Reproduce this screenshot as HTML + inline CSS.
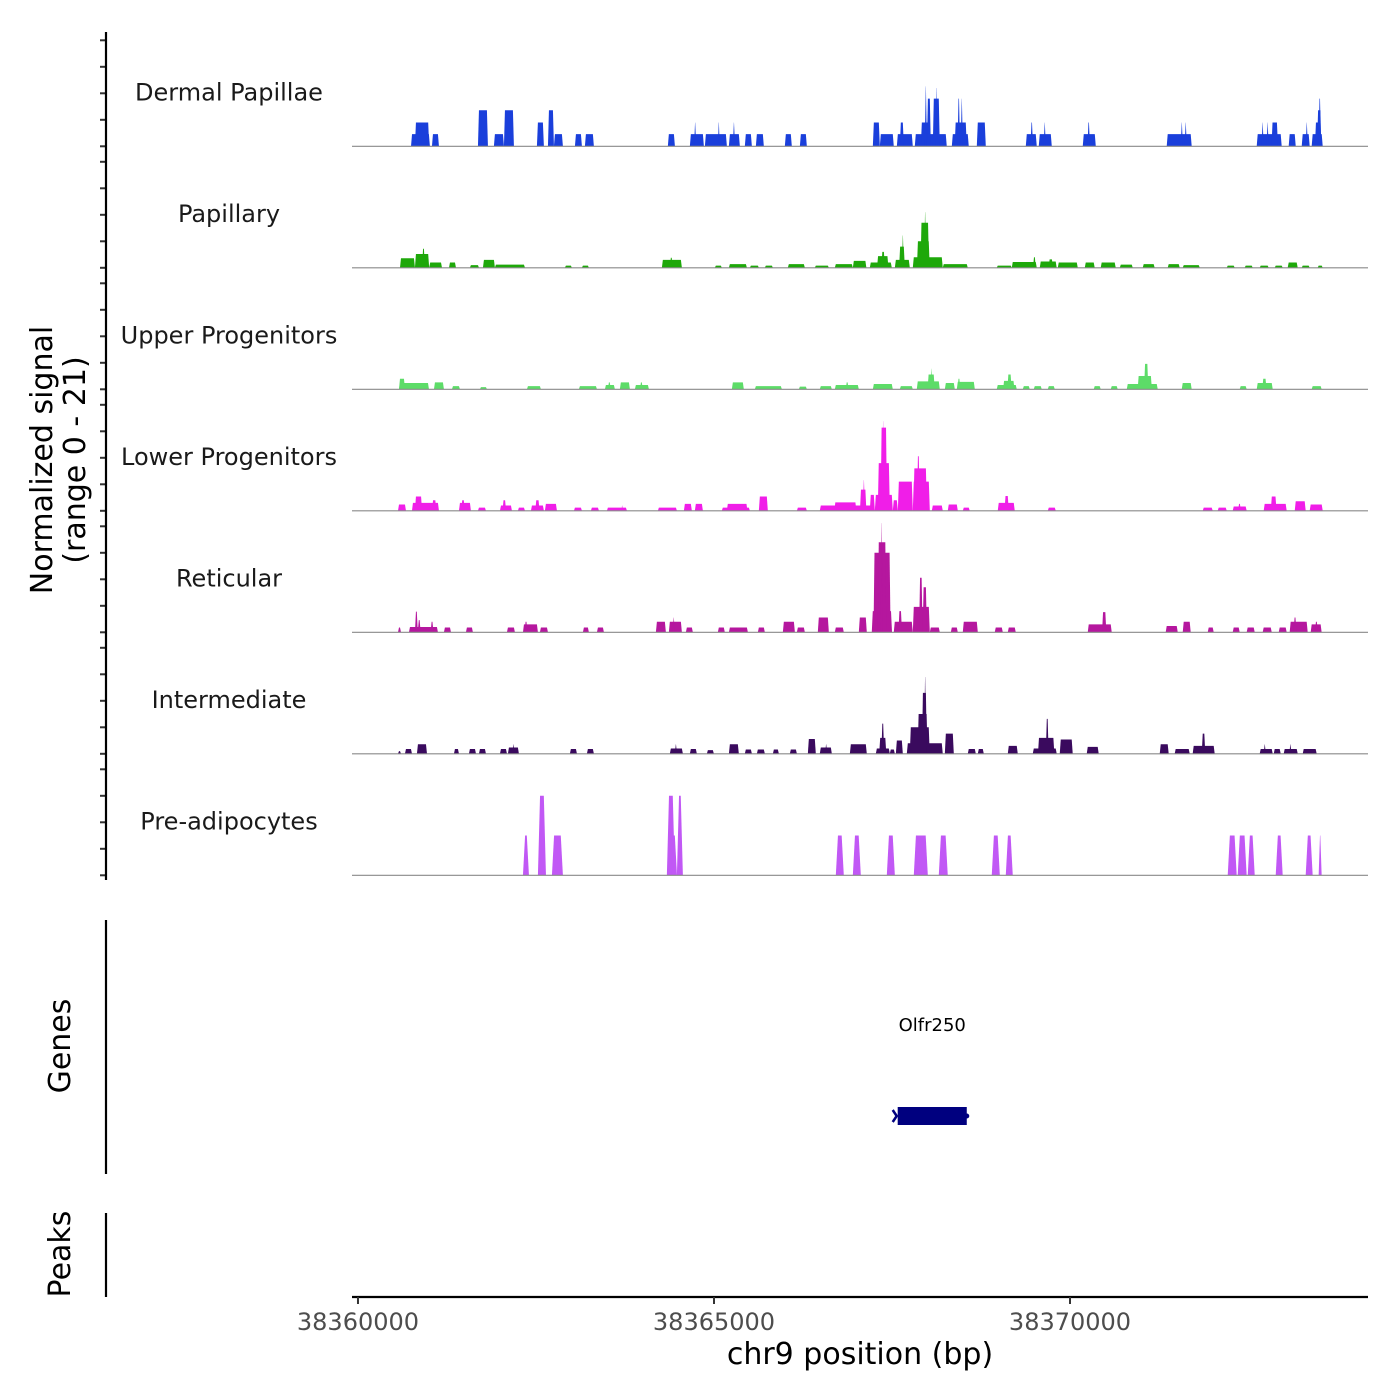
<!DOCTYPE html>
<html><head><meta charset="utf-8">
<style>
html,body{margin:0;padding:0;background:#fff;}
svg{display:block;font-family:"DejaVu Sans","Liberation Sans",sans-serif;}
</style></head>
<body>
<svg id="chart" width="1400" height="1400" viewBox="0 0 1400 1400" xmlns="http://www.w3.org/2000/svg">
  <rect x="0" y="0" width="1400" height="1400" fill="#fff"/>
  <g id="tracks"></g>
  <g id="yaxis"></g>
  <text transform="translate(52,460) rotate(-90)" text-anchor="middle" font-size="30" fill="#000">Normalized signal</text>
  <text transform="translate(85,460) rotate(-90)" text-anchor="middle" font-size="30" fill="#000">(range 0 - 21)</text>

  <line x1="106" y1="920" x2="106" y2="1174" stroke="#000" stroke-width="2.2"/>
  <text transform="translate(70,1046) rotate(-90)" text-anchor="middle" font-size="30" fill="#000">Genes</text>
  <g id="genes"></g>

  <line x1="106" y1="1213" x2="106" y2="1297" stroke="#000" stroke-width="2.2"/>
  <text transform="translate(70,1254) rotate(-90)" text-anchor="middle" font-size="30" fill="#000">Peaks</text>

  <g id="xaxis"></g>
  <text x="860" y="1364" text-anchor="middle" font-size="30" fill="#000">chr9 position (bp)</text>
</svg>
<script>
// ---------- data ----------
const chrom = "chr9";
const regionStart = 38360000;
const viewStart = 38359916;
const viewEnd = 38374185;
const signalMax = 21;
const xTicks = [38360000, 38365000, 38370000];
const yTicks = [0, 5, 10, 15, 20];
const trackNames = ["Dermal Papillae","Papillary","Upper Progenitors","Lower Progenitors","Reticular","Intermediate","Pre-adipocytes"];
const trackColors = ["#1a3fdb","#1ea80a","#5ddc68","#f01ee8","#b5179e","#3a0a5e","#c158f5"];
// segments: [startOffset, endOffset, signal] relative to regionStart
const dermalPapillae = [[745,1010,2.3],[800,1000,4.5],[1039,1137,2.3],[1685,1825,6.8],[1909,2050,2.3],[2050,2190,6.8],[2513,2611,4.5],[2668,2752,6.8],[2752,2878,2.3],[3047,3145,2.3],[3187,3313,2.3],[4352,4451,2.3],[4661,4858,2.3],[4720,4750,4.5],[4872,5181,2.3],[5055,5080,4.5],[5209,5363,2.3],[5265,5295,4.5],[5433,5532,2.3],[5588,5700,2.3],[5995,6093,2.3],[6206,6304,2.3],[7231,7329,4.5],[7329,7525,2.3],[7568,7792,2.3],[7610,7666,4.5],[7820,8269,2.3],[7905,8045,4.5],[7960,7990,11.3],[7990,8045,9],[8073,8171,9],[8115,8140,11],[8340,8578,2.3],[8380,8550,4.5],[8420,8455,9],[8465,8495,9],[8691,8817,4.5],[9379,9533,2.3],[9445,9480,4.5],[9561,9744,2.3],[9630,9660,4.5],[10179,10362,2.3],[10245,10280,4.5],[11358,11709,2.3],[11555,11585,4.5],[11610,11640,4.5],[12622,12973,2.3],[12690,12720,4.5],[12760,12790,4.5],[12830,12920,4.5],[13071,13170,2.3],[13254,13366,2.3],[13310,13340,4.5],[13394,13549,2.3],[13440,13520,4.5],[13470,13530,6.8],[13490,13525,9]];
const papillary = [[590,800,1.8],[800,1000,2.6],[900,940,3.6],[1000,1180,1],[1278,1376,1],[1572,1699,0.5],[1755,1923,1.5],[1923,2345,0.6],[2906,3004,0.4],[3145,3243,0.4],[4268,4549,1.5],[4380,4420,1.9],[5012,5110,0.4],[5209,5462,0.7],[5504,5630,0.4],[5714,5827,0.4],[6037,6276,0.7],[6416,6613,0.4],[6697,6950,0.7],[6950,7140,1.3],[7188,7497,1],[7290,7450,2.2],[7350,7400,3],[7540,7750,1.5],[7600,7680,4],[7640,7665,6.1],[7792,8213,2],[7850,8030,5],[7900,8020,8.5],[7950,7980,10.5],[8213,8564,0.7],[8971,9182,0.4],[9182,9533,1.1],[9480,9520,2],[9575,9813,1.2],[9700,9760,1.6],[9828,10109,1],[10207,10347,1],[10431,10642,1],[10699,10881,0.6],[11021,11189,0.7],[11372,11541,0.7],[11583,11822,0.5],[12201,12313,0.4],[12453,12566,0.4],[12664,12790,0.4],[12875,12987,0.4],[13057,13198,1],[13254,13366,0.4],[13478,13549,0.4]];
const upperProgenitors = [[576,997,1.2],[576,660,2],[1067,1207,1.3],[1320,1432,0.6],[1713,1811,0.4],[2373,2569,0.6],[3103,3356,0.6],[3468,3608,0.8],[3510,3550,1.3],[3678,3819,1.3],[3889,4086,0.8],[3960,4000,1.3],[5251,5419,1.3],[5574,5953,0.6],[6192,6304,0.5],[6486,6655,0.6],[6697,7034,0.8],[6850,6890,1.3],[7231,7511,1],[7610,7792,0.6],[7848,8171,1.5],[8000,8100,2.8],[8040,8070,3.9],[8242,8382,1.2],[8410,8663,1.4],[8420,8460,2],[8971,9252,0.8],[9060,9220,1.6],[9120,9180,2.8],[9337,9435,0.6],[9491,9603,0.6],[9688,9786,0.6],[10333,10431,0.6],[10572,10670,0.6],[10797,11232,1],[10950,11150,2.5],[11040,11100,4.8],[11569,11709,1.2],[12383,12481,0.6],[12622,12847,1.2],[12700,12760,2],[13394,13534,0.6]];
const lowerProgenitors = [[562,674,1.2],[758,1137,1.5],[800,900,2.7],[1040,1100,2],[1418,1586,1.5],[1450,1500,2],[1685,1797,0.6],[1994,2162,1],[2030,2080,2],[2246,2345,0.6],[2429,2611,1],[2490,2550,2],[2625,2794,1.3],[3033,3145,0.6],[3271,3384,0.6],[3496,3777,0.6],[3700,3720,1],[4212,4479,0.6],[4577,4689,1.3],[4731,4844,1.3],[5110,5504,0.6],[5180,5470,1.3],[5630,5756,2.7],[6164,6304,0.6],[6486,7259,1],[6690,7000,1.6],[7050,7140,4],[7090,7120,5.8],[7188,7259,3],[7259,7511,3],[7300,7470,9],[7340,7430,15.7],[7360,7390,16.9],[7511,7582,2],[7582,7792,5.5],[7792,8031,5.5],[7800,7990,8],[7850,7890,10.3],[8059,8213,1],[8283,8424,1.2],[8494,8592,0.6],[8985,9224,1.5],[9080,9140,2.8],[9688,9800,0.6],[11864,12004,0.6],[12074,12201,0.6],[12285,12481,0.8],[12360,12400,1.3],[12720,13043,1.3],[12820,12900,2.7],[13156,13310,1.8],[13366,13549,1.2]];
const reticular = [[562,604,0.9],[716,1123,1],[800,840,3.9],[840,880,2.3],[1020,1060,2],[1207,1306,0.9],[1516,1614,0.9],[2092,2204,0.9],[2317,2527,1.5],[2340,2380,2],[2555,2668,0.9],[3159,3243,0.9],[3356,3454,0.9],[4184,4324,2],[4366,4549,2],[4420,4450,2.8],[4605,4703,0.9],[5054,5152,0.9],[5209,5476,0.9],[5616,5714,0.9],[5967,6136,2],[6164,6276,0.9],[6458,6613,2.8],[6697,6823,0.9],[7034,7146,2.8],[7216,7500,4],[7240,7480,15],[7300,7420,17],[7340,7370,20.6],[7525,7792,2],[7590,7640,4],[7792,8031,4.8],[7880,7930,10.3],[7930,7990,8.5],[8031,8171,0.9],[8326,8424,0.9],[8494,8705,2],[8943,9056,0.9],[9126,9238,0.9],[10249,10586,1.5],[10450,10510,3.8],[11344,11513,1.2],[11583,11695,2],[11934,12018,0.9],[12285,12383,0.9],[12481,12594,0.9],[12706,12833,0.9],[12931,13043,0.9],[13085,13338,2],[13140,13180,2.8],[13380,13534,1.5],[13440,13480,2]];
const intermediate = [[562,604,0.5],[660,758,0.9],[828,969,1.8],[1348,1418,0.9],[1558,1657,0.9],[1699,1797,0.9],[1994,2092,0.9],[2106,2260,1.2],[2170,2200,1.8],[2976,3075,0.9],[3215,3313,0.9],[4380,4563,1],[4450,4480,1.8],[4661,4759,0.9],[4900,4998,0.7],[5209,5349,1.8],[5433,5532,0.8],[5602,5714,0.8],[5827,5911,0.8],[6065,6164,0.8],[6318,6430,2.8],[6486,6655,1.2],[6560,6590,1.8],[6908,7146,1.8],[7273,7469,1],[7320,7420,3],[7350,7390,5.7],[7469,7540,0.8],[7554,7652,2.5],[7708,8213,2],[7750,8030,5],[7860,8000,7.5],[7920,7990,11.5],[7950,7980,14.5],[8242,8368,3.8],[8564,8677,0.9],[8705,8789,0.9],[9126,9266,1.5],[9477,9813,1],[9550,9780,3],[9660,9700,6.6],[9856,10038,2.7],[10235,10403,1.3],[11260,11386,1.8],[11470,11681,0.9],[11723,12032,1.5],[11850,11900,3.8],[12664,12847,0.9],[12720,12750,1.8],[12861,12959,0.9],[13001,13198,0.9],[13080,13110,1.8],[13268,13464,0.9]];
const preAdipocytes = [[2317,2401,7.5],[2527,2640,15],[2724,2878,7.5],[4338,4451,15],[4479,4563,15],[4400,4480,7.5],[6711,6823,7.5],[6950,7062,7.5],[7427,7540,7.5],[7806,8003,7.5],[8157,8283,7.5],[8901,9014,7.5],[9098,9196,7.5],[12215,12341,7.5],[12355,12481,7.5],[12496,12594,7.5],[12889,12987,7.5],[13310,13408,7.5],[13492,13534,7.5]];
const trackData = [dermalPapillae,papillary,upperProgenitors,lowerProgenitors,reticular,intermediate,preAdipocytes];
const geneNames = ["Olfr250"];
const geneStarts = [38367580];
const geneEnds = [38368550];
const geneStrands = ["-"];

// ---------- layout ----------
const NS = "http://www.w3.org/2000/svg";
const plotLeft = 352, plotRight = 1368;
const firstBaseline = 146.3, trackStep = 121.5, pxPerUnit = 5.3;
function xScale(bp){ return plotLeft + (bp - viewStart) / (viewEnd - viewStart) * (plotRight - plotLeft); }
function yScale(trackIndex, v){ return firstBaseline + trackIndex * trackStep - v * pxPerUnit; }
function mk(tag, attrs, parent){
  const el = document.createElementNS(NS, tag);
  for (const k in attrs) el.setAttribute(k, attrs[k]);
  parent.appendChild(el);
  return el;
}

const tracksG = document.getElementById('tracks');
const yAxisG = document.getElementById('yaxis');
trackNames.forEach((name, i) => {
  const g = mk('g', {}, tracksG);
  
  
  const base = yScale(i, 0);
  const taper = i === 6 ? 30 : 14;
  trackData[i].forEach(seg => {
    const s = regionStart + seg[0], e = regionStart + seg[1];
    const x1 = xScale(s), x2 = xScale(e), yt = yScale(i, seg[2]);
    let t = xScale(s + taper) - x1;
    if (t * 2 > x2 - x1) t = (x2 - x1) / 2 * 0.9;
    const p = mk('polygon', {points: `${x1},${base} ${x1+t},${yt} ${x2-t},${yt} ${x2},${base}`, fill: trackColors[i]}, g);
    
    
  });
  const bl = mk('line', {x1: plotLeft, x2: plotRight, y1: base, y2: base, stroke: '#8a8a8a', 'stroke-width': 1.2}, g);
  
  
  const lab = mk('text', {x: 229, y: base - 46, 'text-anchor': 'middle', 'font-size': 24, fill: '#1a1a1a'}, g);
  lab.textContent = name;
  
  
  yTicks.forEach(v => {
    const tk = mk('line', {x1: 100, x2: 106, y1: yScale(i, v), y2: yScale(i, v), stroke: '#333', 'stroke-width': 2}, yAxisG);
    
    
  });
});
const yl = mk('line', {x1: 106, x2: 106, y1: 32, y2: 880, stroke: '#000', 'stroke-width': 2.2}, yAxisG);



// genes
const genesG = document.getElementById('genes');
geneNames.forEach((gn, i) => {
  const x1 = xScale(geneStarts[i]), x2 = xScale(geneEnds[i]);
  const r = mk('rect', {x: x1, y: 1107, width: x2 - x1, height: 18, fill: '#00007f'}, genesG);
  
  
  const ar = mk('polyline', {points: `${x1-5},1110 ${x1-1},1116 ${x1-5},1122`, fill: 'none', stroke: '#00007f', 'stroke-width': 2.5}, genesG);
  
  
  const d = mk('circle', {cx: x2, cy: 1116, r: 2.5, fill: '#00007f'}, genesG);
  
  
  const t = mk('text', {x: (x1 + x2) / 2, y: 1031, 'text-anchor': 'middle', 'font-size': 18, fill: '#000'}, genesG);
  t.textContent = gn;
  
  
});

// x axis
const xG = document.getElementById('xaxis');
const xl = mk('line', {x1: plotLeft, x2: plotRight, y1: 1297, y2: 1297, stroke: '#000', 'stroke-width': 2.2}, xG);


xTicks.forEach(v => {
  const x = xScale(v);
  const tk = mk('line', {x1: x, x2: x, y1: 1297, y2: 1304, stroke: '#333', 'stroke-width': 2}, xG);
  
  
  const lb = mk('text', {x: x, y: 1330, 'text-anchor': 'middle', 'font-size': 24, fill: '#4d4d4d'}, xG);
  lb.textContent = String(v);
  
  
});
</script>
</body></html>
